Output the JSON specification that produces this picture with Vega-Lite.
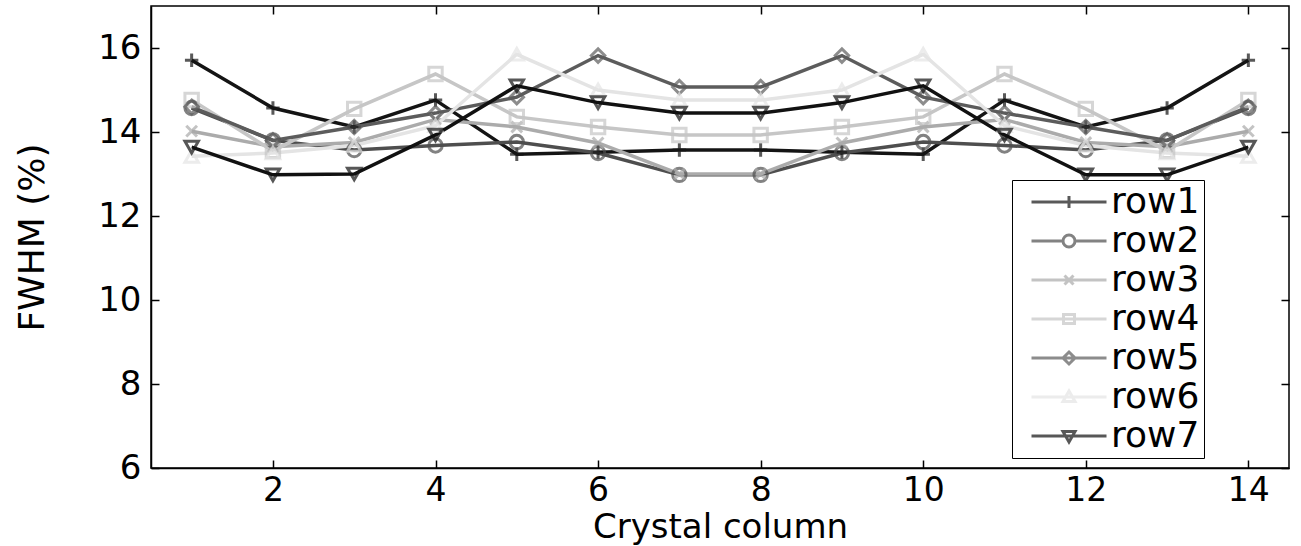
{
  "$schema": "https://vega.github.io/schema/vega-lite/v6.json",
  "autosize": {"type": "none"},
  "width": 1138,
  "height": 462,
  "padding": {"left": 151, "top": 6, "right": 12, "bottom": 78},
  "background": "white",
  "config": {
    "view": {"stroke": "black", "strokeWidth": 1.5},
    "font": "DejaVu Sans",
    "axis": {"grid": false, "domainColor": "black", "domainWidth": 1.5, "tickColor": "black", "tickWidth": 1.5, "labelColor": "black", "titleColor": "black", "labelFont": "DejaVu Sans", "titleFont": "DejaVu Sans", "titleFontWeight": "normal"},
    "point": {"filled": false, "strokeWidth": 3, "size": 180}
  },
  "data": {"values": [
    {"column": 1, "row": "row1", "fwhm": 15.71}, {"column": 2, "row": "row1", "fwhm": 14.57}, {"column": 3, "row": "row1", "fwhm": 14.12}, {"column": 4, "row": "row1", "fwhm": 14.76}, {"column": 5, "row": "row1", "fwhm": 13.47}, {"column": 6, "row": "row1", "fwhm": 13.52}, {"column": 7, "row": "row1", "fwhm": 13.57}, {"column": 8, "row": "row1", "fwhm": 13.57}, {"column": 9, "row": "row1", "fwhm": 13.52}, {"column": 10, "row": "row1", "fwhm": 13.47}, {"column": 11, "row": "row1", "fwhm": 14.76}, {"column": 12, "row": "row1", "fwhm": 14.12}, {"column": 13, "row": "row1", "fwhm": 14.57}, {"column": 14, "row": "row1", "fwhm": 15.71},
    {"column": 1, "row": "row2", "fwhm": 14.57}, {"column": 2, "row": "row2", "fwhm": 13.8}, {"column": 3, "row": "row2", "fwhm": 13.57}, {"column": 4, "row": "row2", "fwhm": 13.68}, {"column": 5, "row": "row2", "fwhm": 13.76}, {"column": 6, "row": "row2", "fwhm": 13.5}, {"column": 7, "row": "row2", "fwhm": 12.98}, {"column": 8, "row": "row2", "fwhm": 12.98}, {"column": 9, "row": "row2", "fwhm": 13.5}, {"column": 10, "row": "row2", "fwhm": 13.76}, {"column": 11, "row": "row2", "fwhm": 13.68}, {"column": 12, "row": "row2", "fwhm": 13.57}, {"column": 13, "row": "row2", "fwhm": 13.8}, {"column": 14, "row": "row2", "fwhm": 14.57},
    {"column": 1, "row": "row3", "fwhm": 14.02}, {"column": 2, "row": "row3", "fwhm": 13.65}, {"column": 3, "row": "row3", "fwhm": 13.75}, {"column": 4, "row": "row3", "fwhm": 14.3}, {"column": 5, "row": "row3", "fwhm": 14.12}, {"column": 6, "row": "row3", "fwhm": 13.74}, {"column": 7, "row": "row3", "fwhm": 13.0}, {"column": 8, "row": "row3", "fwhm": 13.0}, {"column": 9, "row": "row3", "fwhm": 13.74}, {"column": 10, "row": "row3", "fwhm": 14.12}, {"column": 11, "row": "row3", "fwhm": 14.3}, {"column": 12, "row": "row3", "fwhm": 13.75}, {"column": 13, "row": "row3", "fwhm": 13.65}, {"column": 14, "row": "row3", "fwhm": 14.02},
    {"column": 1, "row": "row4", "fwhm": 14.76}, {"column": 2, "row": "row4", "fwhm": 13.55}, {"column": 3, "row": "row4", "fwhm": 14.55}, {"column": 4, "row": "row4", "fwhm": 15.38}, {"column": 5, "row": "row4", "fwhm": 14.36}, {"column": 6, "row": "row4", "fwhm": 14.12}, {"column": 7, "row": "row4", "fwhm": 13.93}, {"column": 8, "row": "row4", "fwhm": 13.93}, {"column": 9, "row": "row4", "fwhm": 14.12}, {"column": 10, "row": "row4", "fwhm": 14.36}, {"column": 11, "row": "row4", "fwhm": 15.38}, {"column": 12, "row": "row4", "fwhm": 14.55}, {"column": 13, "row": "row4", "fwhm": 13.55}, {"column": 14, "row": "row4", "fwhm": 14.76},
    {"column": 1, "row": "row5", "fwhm": 14.6}, {"column": 2, "row": "row5", "fwhm": 13.8}, {"column": 3, "row": "row5", "fwhm": 14.12}, {"column": 4, "row": "row5", "fwhm": 14.45}, {"column": 5, "row": "row5", "fwhm": 14.83}, {"column": 6, "row": "row5", "fwhm": 15.82}, {"column": 7, "row": "row5", "fwhm": 15.07}, {"column": 8, "row": "row5", "fwhm": 15.07}, {"column": 9, "row": "row5", "fwhm": 15.82}, {"column": 10, "row": "row5", "fwhm": 14.83}, {"column": 11, "row": "row5", "fwhm": 14.45}, {"column": 12, "row": "row5", "fwhm": 14.12}, {"column": 13, "row": "row5", "fwhm": 13.8}, {"column": 14, "row": "row5", "fwhm": 14.6},
    {"column": 1, "row": "row6", "fwhm": 13.42}, {"column": 2, "row": "row6", "fwhm": 13.5}, {"column": 3, "row": "row6", "fwhm": 13.68}, {"column": 4, "row": "row6", "fwhm": 14.15}, {"column": 5, "row": "row6", "fwhm": 15.85}, {"column": 6, "row": "row6", "fwhm": 15.0}, {"column": 7, "row": "row6", "fwhm": 14.76}, {"column": 8, "row": "row6", "fwhm": 14.76}, {"column": 9, "row": "row6", "fwhm": 15.0}, {"column": 10, "row": "row6", "fwhm": 15.85}, {"column": 11, "row": "row6", "fwhm": 14.15}, {"column": 12, "row": "row6", "fwhm": 13.68}, {"column": 13, "row": "row6", "fwhm": 13.5}, {"column": 14, "row": "row6", "fwhm": 13.42},
    {"column": 1, "row": "row7", "fwhm": 13.64}, {"column": 2, "row": "row7", "fwhm": 12.98}, {"column": 3, "row": "row7", "fwhm": 13.0}, {"column": 4, "row": "row7", "fwhm": 13.93}, {"column": 5, "row": "row7", "fwhm": 15.1}, {"column": 6, "row": "row7", "fwhm": 14.7}, {"column": 7, "row": "row7", "fwhm": 14.45}, {"column": 8, "row": "row7", "fwhm": 14.45}, {"column": 9, "row": "row7", "fwhm": 14.7}, {"column": 10, "row": "row7", "fwhm": 15.1}, {"column": 11, "row": "row7", "fwhm": 13.93}, {"column": 12, "row": "row7", "fwhm": 12.98}, {"column": 13, "row": "row7", "fwhm": 12.98}, {"column": 14, "row": "row7", "fwhm": 13.64}
  ]},
  "resolve": {"axis": {"x": "independent", "y": "independent"}},
  "layer": [
    {
      "mark": {"type": "line", "strokeWidth": 3.5},
      "encoding": {
        "x": {"field": "column", "type": "quantitative", "scale": {"domain": [0.5, 14.5], "nice": false, "zero": false},
              "axis": {"values": [2, 4, 6, 8, 10, 12, 14], "labelFontSize": 33, "tickSize": -8, "labelPadding": 14, "title": "Crystal column", "titleFontSize": 34, "titlePadding": 3}},
        "y": {"field": "fwhm", "type": "quantitative", "scale": {"domain": [6, 17], "nice": false, "zero": false},
              "axis": {"values": [6, 8, 10, 12, 14, 16], "labelFontSize": 34, "tickSize": -8, "labelPadding": 18, "title": "FWHM (%)", "titleFontSize": 36, "titlePadding": 46}},
        "color": {"field": "row", "type": "nominal",
                  "scale": {"domain": ["row1", "row2", "row3", "row4", "row5", "row6", "row7"], "range": ["#141414", "#4e4e4e", "#ababab", "#c6c6c6", "#5c5c5c", "#e4e4e4", "#111111"]}}
      }
    },
    {
      "transform": [{"filter": "datum.row === 'row1'"}],
      "mark": {"type": "point", "shape": "M-1,0H1M0,-1V1"},
      "encoding": {
        "x": {"field": "column", "type": "quantitative", "axis": {"orient": "top", "values": [2, 4, 6, 8, 10, 12, 14], "labels": false, "domain": false, "tickSize": -8, "title": null}},
        "y": {"field": "fwhm", "type": "quantitative", "axis": {"orient": "right", "values": [6, 8, 10, 12, 14, 16], "labels": false, "domain": false, "tickSize": -8, "title": null}},
        "color": {"field": "row", "type": "nominal"}
      }
    },
    {
      "transform": [{"filter": "datum.row === 'row2'"}],
      "mark": {"type": "point", "shape": "circle"},
      "encoding": {"x": {"field": "column", "type": "quantitative", "axis": null}, "y": {"field": "fwhm", "type": "quantitative", "axis": null}, "color": {"field": "row", "type": "nominal"}}
    },
    {
      "transform": [{"filter": "datum.row === 'row3'"}],
      "mark": {"type": "point", "shape": "M-0.8,-0.8L0.8,0.8M-0.8,0.8L0.8,-0.8"},
      "encoding": {"x": {"field": "column", "type": "quantitative", "axis": null}, "y": {"field": "fwhm", "type": "quantitative", "axis": null}, "color": {"field": "row", "type": "nominal"}}
    },
    {
      "transform": [{"filter": "datum.row === 'row4'"}],
      "mark": {"type": "point", "shape": "square"},
      "encoding": {"x": {"field": "column", "type": "quantitative", "axis": null}, "y": {"field": "fwhm", "type": "quantitative", "axis": null}, "color": {"field": "row", "type": "nominal"}}
    },
    {
      "transform": [{"filter": "datum.row === 'row5'"}],
      "mark": {"type": "point", "shape": "diamond"},
      "encoding": {"x": {"field": "column", "type": "quantitative", "axis": null}, "y": {"field": "fwhm", "type": "quantitative", "axis": null}, "color": {"field": "row", "type": "nominal"}}
    },
    {
      "transform": [{"filter": "datum.row === 'row6'"}],
      "mark": {"type": "point", "shape": "triangle-up"},
      "encoding": {"x": {"field": "column", "type": "quantitative", "axis": null}, "y": {"field": "fwhm", "type": "quantitative", "axis": null}, "color": {"field": "row", "type": "nominal"}}
    },
    {
      "transform": [{"filter": "datum.row === 'row7'"}],
      "mark": {"type": "point", "shape": "triangle-down"},
      "encoding": {"x": {"field": "column", "type": "quantitative", "axis": null}, "y": {"field": "fwhm", "type": "quantitative", "axis": null}, "color": {"field": "row", "type": "nominal"}}
    },
    {
      "mark": {"type": "point", "filled": false, "strokeWidth": 3, "size": 400, "opacity": 0},
      "encoding": {
        "x": {"field": "column", "type": "quantitative", "axis": null},
        "y": {"field": "fwhm", "type": "quantitative", "axis": null},
        "color": {"field": "row", "type": "nominal",
                  "legend": {"title": null, "orient": "none", "legendX": 861, "legendY": 174, "strokeColor": "black", "fillColor": "white", "padding": 4, "rowPadding": 3, "labelFont": "DejaVu Sans", "labelFontSize": 36, "labelColor": "black", "symbolSize": 400, "symbolStrokeWidth": 3, "symbolOpacity": 1, "symbolOffset": 35, "labelOffset": 24, "symbolFillColor": "transparent"}},
        "shape": {"field": "row", "type": "nominal",
                  "scale": {"domain": ["row1", "row2", "row3", "row4", "row5", "row6", "row7"], "range": ["M-3.75,0H3.75M0,-0.6V0.6", "M-3.75,0H-0.6M0.6,0H3.75M0.6,0A0.6,0.6,0,1,1,-0.6,0A0.6,0.6,0,1,1,0.6,0", "M-3.75,0H3.75M-0.45,-0.45L0.45,0.45M-0.45,0.45L0.45,-0.45", "M-3.75,0H3.75M-0.55,-0.45H0.55V0.45H-0.55Z", "M-3.75,0H3.75M0,-0.6L0.6,0L0,0.6L-0.6,0Z", "M-3.75,0H3.75M0,-0.6L0.6,0.45H-0.6Z", "M-3.75,0H3.75M0,0.6L0.6,-0.45H-0.6Z"]},
                  "legend": {"title": null, "orient": "none", "legendX": 861, "legendY": 174, "strokeColor": "black", "fillColor": "white", "padding": 4, "rowPadding": 3, "labelFont": "DejaVu Sans", "labelFontSize": 36, "labelColor": "black", "symbolSize": 400, "symbolStrokeWidth": 3, "symbolOpacity": 1, "symbolOffset": 35, "labelOffset": 24, "symbolFillColor": "transparent"}}
      }
    }
  ]
}
